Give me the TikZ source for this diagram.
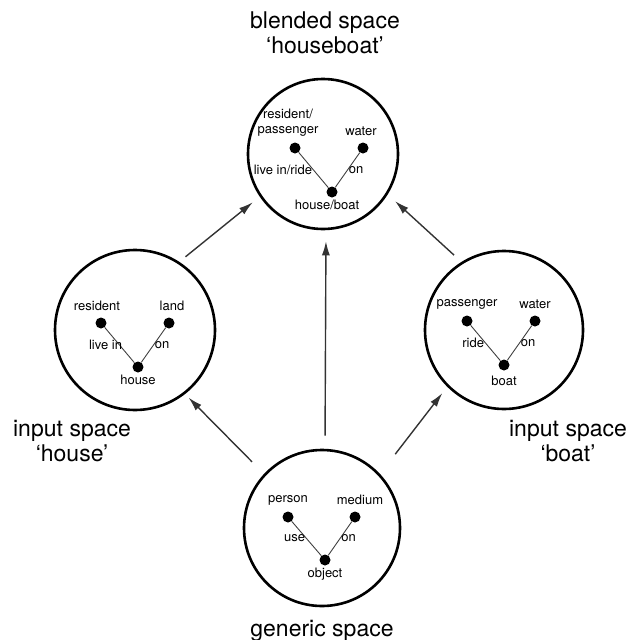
\documentclass[tikz,border=0pt]{standalone}
\usepackage{fontspec}
\setmainfont{TeX Gyre Heros}
\usetikzlibrary{arrows.meta,positioning}

\begin{document}
\begin{tikzpicture}[x=1pt,y=-1pt,
	space/.style={draw,circle,line width=2.6pt,inner sep=0pt,minimum size=156pt},
	pt/.style={circle,fill,inner sep=0pt,minimum size=11pt},
	lbl/.style={inner sep=1pt,align=center,font=\fontsize{13}{15}\selectfont},
	title/.style={align=center,font=\fontsize{23}{25}\selectfont},
	rel/.style={line width=0.9pt,draw=black!75},
	map/.style={-{Latex[length=14pt,width=8pt]},line width=1.4pt,draw=black!80}]

	\useasboundingbox (0,0) rectangle (634,640);

	% the four spaces
	\node[space,minimum size=150pt] (blend) at (323,154) {};
	\node[space,minimum size=160pt] (inleft) at (135,330) {};
	\node[space,minimum size=158pt] (inright) at (504,330) {};
	\node[space] (generic) at (322,528) {};

	% blended space
	\node[pt] (rp) at (295,148) {};
	\node[pt] (wb) at (363,148) {};
	\node[pt] (hb) at (332,192) {};
	\node(rpl)[lbl,above=5pt of rp,xshift=-7pt]{resident/\\passenger};
	\node(wbl)[lbl,above=5pt of wb,xshift=-2pt]{water};
	\node(hbl)[lbl,below=1.5pt of hb,xshift=-5pt]{house/boat};
	\draw[rel] (rp) -- node(rpr)[lbl,left]{live in/ride} (hb);
	\draw[rel] (wb) -- node(wbr)[lbl,right]{on} (hb);

	% input space house
	\node[pt] (res) at (101,323) {};
	\node[pt] (land) at (169,323) {};
	\node[pt] (house) at (138,367) {};
	\node(resl)[lbl,above=5pt of res,xshift=-4pt]{resident};
	\node(landl)[lbl,above=5pt of land,xshift=3pt]{land};
	\node(housel)[lbl,below=1.5pt of house]{house};
	\draw[rel] (res) -- node(resr)[lbl,left,xshift=4pt]{live in} (house);
	\draw[rel] (land) -- node(landr)[lbl,right]{on} (house);

	% input space boat
	\node[pt] (pas) at (467,321) {};
	\node[pt] (wat) at (535,321) {};
	\node[pt] (boat) at (504,365) {};
	\node(pasl)[lbl,above=5pt of pas]{passenger};
	\node(watl)[lbl,above=5pt of wat]{water};
	\node(boatl)[lbl,below=4pt of boat]{boat};
	\draw[rel] (pas) -- node(pasr)[lbl,left]{ride} (boat);
	\draw[rel] (wat) -- node(watr)[lbl,right]{on} (boat);

	% generic space
	\node[pt] (person) at (288,517) {};
	\node[pt] (medium) at (355,517) {};
	\node[pt] (object) at (325,560) {};
	\node(personl)[lbl,above=5pt of person]{person};
	\node(mediuml)[lbl,above=5pt of medium,xshift=5pt]{medium};
	\node(objectl)[lbl,below=1.5pt of object]{object};
	\draw[rel] (person) -- node(personr)[lbl,left]{use} (object);
	\draw[rel] (medium) -- node(mediumr)[lbl,right]{on} (object);

	% titles
	\node(blendttl)[title] at (325,33) {blended space\\‘houseboat’};
	\node(leftttl)[title] at (72,441) {input space\\‘house’};
	\node(rightttl)[title] at (568,441) {input space\\‘boat’};
	\node(genttl)[title,anchor=base] at (322,636) {generic space};

	% mappings
	\draw[map,shorten <=13pt,shorten >=11pt] ([xshift=3pt]generic.north) -- ([xshift=3pt]blend.south);
	\draw[map,shorten <=17pt,shorten >=5pt] (generic.137) -- (inleft.308);
	\draw[map,shorten <=25pt,shorten >=8pt] (generic.43) -- (inright.225);
	\draw[map,shorten <=8pt,shorten >=9pt] (inleft.57) -- (blend.214);
	\draw[map,shorten <=10pt,shorten >=10pt] (inright.122) -- (blend.328);

\end{tikzpicture}
\end{document}
